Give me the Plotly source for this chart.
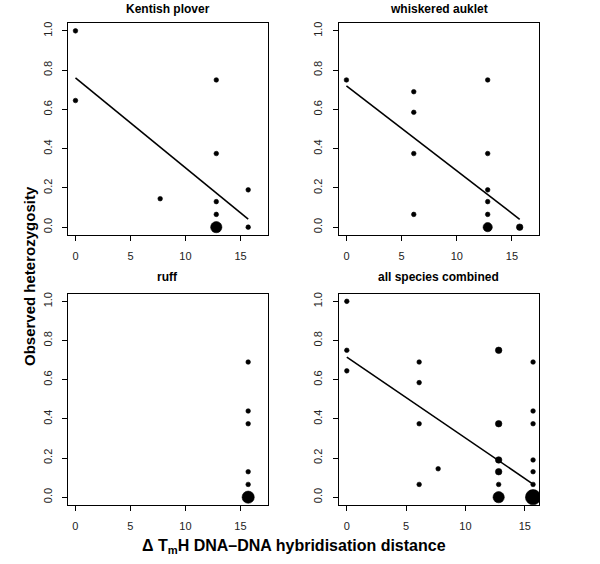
import plotly.graph_objects as go

# ---------------- data ----------------
panel_titles = ["Kentish plover", "whiskered auklet", "ruff", "all species combined"]

kp_x = [0, 0, 7.7, 12.8, 12.8, 12.8, 12.8, 12.8, 15.7, 15.7]
kp_y = [1.0, 0.645, 0.145, 0.75, 0.375, 0.13, 0.065, 0.0, 0.19, 0.0]
kp_n = [1, 1, 1, 1, 1, 1, 1, 6, 1, 1]

wa_x = [0, 6.1, 6.1, 6.1, 6.1, 12.8, 12.8, 12.8, 12.8, 12.8, 12.8, 15.7]
wa_y = [0.75, 0.69, 0.585, 0.375, 0.065, 0.75, 0.375, 0.19, 0.13, 0.065, 0.0, 0.0]
wa_n = [1, 1, 1, 1, 1, 1, 1, 1, 1, 1, 4, 2]

ru_x = [15.7, 15.7, 15.7, 15.7, 15.7, 15.7]
ru_y = [0.69, 0.44, 0.375, 0.13, 0.065, 0.0]
ru_n = [1, 1, 1, 1, 1, 7]

all_x = [0, 0, 0, 6.1, 6.1, 6.1, 6.1, 7.7,
         12.8, 12.8, 12.8, 12.8, 12.8, 12.8,
         15.7, 15.7, 15.7, 15.7, 15.7, 15.7, 15.7]
all_y = [1.0, 0.75, 0.645, 0.69, 0.585, 0.375, 0.065, 0.145,
         0.75, 0.375, 0.19, 0.13, 0.065, 0.0,
         0.69, 0.44, 0.375, 0.19, 0.13, 0.065, 0.0]
all_n = [1, 1, 1, 1, 1, 1, 1, 1,
         2, 2, 2, 2, 1, 6,
         1, 1, 1, 1, 1, 1, 11]

# regression lines: (intercept, slope, x_start, x_end); None = no line
fits = [(0.76, -0.0458, 0, 15.7),
        (0.72, -0.0433, 0, 15.7),
        None,
        (0.715, -0.0413, 0, 15.6)]

x_ticks = [0, 5, 10, 15]
y_ticks = [0, 0.2, 0.4, 0.6, 0.8, 1.0]
y_tick_labels = ["0.0", "0.2", "0.4", "0.6", "0.8", "1.0"]

x_label = "Δ T<sub>m</sub>H DNA–DNA hybridisation distance"
y_label = "Observed heterozygosity"

# ---------------- layout geometry ----------------
W, H = 600, 564
def px_x(p): return p / W
def px_y(p): return 1 - p / H

x_domains = [(px_x(68), px_x(268)), (px_x(338.5), px_x(539)),
             (px_x(68), px_x(268)), (px_x(338.5), px_x(539))]
y_domains = [(px_y(235), px_y(23)), (px_y(235), px_y(23)),
             (px_y(505), px_y(293.5)), (px_y(505), px_y(293.5))]
x_ranges = [[-0.68, 17.5], [-0.72, 17.45], [-0.66, 17.5], [-0.7, 16.2]]
y_range = [-0.04, 1.04]

datasets = [(kp_x, kp_y, kp_n), (wa_x, wa_y, wa_n), (ru_x, ru_y, ru_n), (all_x, all_y, all_n)]

fig = go.Figure()
FONT = "Liberation Sans, Arial, Helvetica, sans-serif"

for i, (xs, ys, ns) in enumerate(datasets):
    xa = "x" if i == 0 else f"x{i+1}"
    ya = "y" if i == 0 else f"y{i+1}"
    sizes = [4.6 * (n ** 0.5) for n in ns]
    fig.add_trace(go.Scatter(x=xs, y=ys, mode="markers", xaxis=xa, yaxis=ya,
                             marker=dict(color="black", size=sizes, opacity=1,
                                         line=dict(width=0.6, color="black")),
                             showlegend=False, hoverinfo="x+y"))
    if fits[i] is not None:
        a, b, x0, x1 = fits[i]
        fig.add_trace(go.Scatter(x=[x0, x1], y=[a + b * x0, a + b * x1], mode="lines",
                                 xaxis=xa, yaxis=ya, line=dict(color="black", width=1.6),
                                 showlegend=False, hoverinfo="skip"))

    axis_common = dict(showline=True, linecolor="black", linewidth=1, mirror=True,
                       ticks="outside", ticklen=5, tickwidth=1, tickcolor="black",
                       showgrid=False, zeroline=False,
                       tickfont=dict(family=FONT, size=11, color="#222"))
    xkey = "xaxis" if i == 0 else f"xaxis{i+1}"
    ykey = "yaxis" if i == 0 else f"yaxis{i+1}"
    fig.layout[xkey] = dict(domain=list(x_domains[i]), range=x_ranges[i], anchor=ya,
                            tickmode="array", tickvals=x_ticks, ticklabelstandoff=6,
                            **axis_common)
    fig.layout[ykey] = dict(domain=list(y_domains[i]), range=y_range, anchor=xa,
                            tickmode="array", tickvals=y_ticks, ticktext=y_tick_labels,
                            tickangle=-90, ticklabelstandoff=6, **axis_common)

    cx = (x_domains[i][0] + x_domains[i][1]) / 2
    ty = px_y(9) if i < 2 else px_y(277)
    fig.add_annotation(text=f"<b>{panel_titles[i]}</b>", x=cx, y=ty, xref="paper", yref="paper",
                       showarrow=False, xanchor="center", yanchor="middle",
                       font=dict(family=FONT, size=12, color="black"))

fig.add_annotation(text=f"<b>{x_label}</b>", x=px_x(293.5), y=px_y(546), xref="paper", yref="paper",
                   showarrow=False, xanchor="center", yanchor="middle",
                   font=dict(family=FONT, size=16, color="black"))
fig.add_annotation(text=f"<b>{y_label}</b>", x=px_x(30), y=px_y(276), xref="paper", yref="paper",
                   showarrow=False, xanchor="center", yanchor="middle", textangle=-90,
                   font=dict(family=FONT, size=15, color="black"))

fig.update_layout(width=W, height=H, margin=dict(l=0, r=0, t=0, b=0),
                  paper_bgcolor="white", plot_bgcolor="white")

fig.write_html("out.html", config={"displayModeBar": False},
               post_script="document.body.style.margin='0';document.body.style.padding='0';")
